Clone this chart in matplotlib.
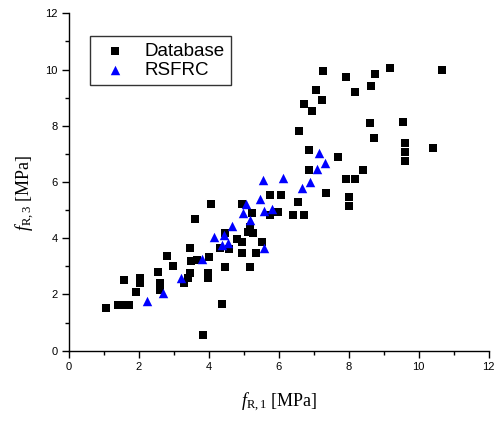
import matplotlib
matplotlib.use('Agg')
import matplotlib.pyplot as plt
from matplotlib.ticker import MultipleLocator

# Database points (f_R1, f_R3)
db_x = [1.07, 1.42, 1.56, 1.73, 1.58, 1.91, 2.04, 2.04, 2.54, 2.61, 2.61, 2.80, 2.99, 3.28, 3.40,
        3.47, 3.49, 3.47, 3.60, 3.66, 3.83, 4.02, 3.99, 3.99, 4.07, 4.39, 4.32, 4.47, 4.47, 4.59,
        4.82, 4.95, 4.95, 4.94, 5.13, 5.27, 5.18, 5.23, 5.18, 5.34, 5.51, 5.75, 6.07, 5.99, 5.75,
        6.40, 6.72, 6.56, 7.36, 8.00, 8.00, 6.87, 7.92, 8.17, 8.40, 6.87, 7.69, 9.61, 9.61, 9.61,
        10.41, 6.59, 8.61, 9.54, 8.72, 6.73, 7.23, 6.95, 7.07, 8.17, 8.64, 7.27, 7.92, 8.75, 9.18,
        10.67]
db_y = [1.53, 1.62, 1.62, 1.62, 2.50, 2.10, 2.58, 2.40, 2.81, 2.40, 2.16, 3.38, 3.02, 2.40, 2.58,
        3.67, 3.18, 2.75, 4.68, 3.23, 0.55, 3.35, 2.75, 2.60, 5.22, 1.66, 3.67, 4.18, 2.98, 3.62,
        3.98, 3.88, 3.47, 5.22, 4.21, 4.19, 4.39, 4.88, 2.98, 3.47, 3.86, 5.53, 5.54, 4.94, 4.82,
        4.82, 4.82, 5.29, 5.62, 5.46, 5.15, 6.43, 6.10, 6.10, 6.43, 7.14, 6.90, 7.38, 7.06, 6.74,
        7.22, 7.82, 8.11, 8.13, 7.55, 8.77, 8.91, 8.53, 9.27, 9.20, 9.41, 9.95, 9.73, 9.85, 10.05,
        10.00]

# RSFRC points
rs_x = [2.24, 2.69, 3.20, 3.80, 4.15, 4.45, 4.56, 4.39, 4.67, 4.99, 5.06, 5.19, 5.47, 5.59, 5.80,
        5.58, 5.56, 6.12, 6.66, 6.89, 7.09, 7.14, 7.31]
rs_y = [1.78, 2.04, 2.60, 3.25, 4.05, 4.12, 3.84, 3.75, 4.45, 4.88, 5.23, 4.64, 5.39, 4.97, 5.04,
        3.65, 6.07, 6.13, 5.79, 6.00, 6.46, 7.02, 6.67]

plt.rcParams['font.family'] = 'Liberation Sans'
plt.rcParams['mathtext.fontset'] = 'custom'
plt.rcParams['mathtext.rm'] = 'Liberation Serif'
plt.rcParams['mathtext.it'] = 'Liberation Serif:italic'

fig = plt.figure(figsize=(4.99, 4.23), dpi=100)
ax = fig.add_axes([0.1377, 0.1709, 0.8417, 0.7977])

ax.scatter(db_x, db_y, marker='s', s=5.8 ** 2, c='black', linewidths=0, label='Database', zorder=3)
ax.scatter(rs_x, rs_y, marker='^', s=6.8 ** 2, c='blue', linewidths=0, label='RSFRC', zorder=4)

ax.set_xlim(0, 12)
ax.set_ylim(0, 12)
ax.xaxis.set_major_locator(MultipleLocator(2))
ax.yaxis.set_major_locator(MultipleLocator(2))
ax.xaxis.set_minor_locator(MultipleLocator(1))
ax.yaxis.set_minor_locator(MultipleLocator(1))
ax.tick_params(which='major', direction='out', length=5, width=1, labelsize=8, pad=3)
ax.tick_params(which='minor', direction='out', length=3, width=1)
ax.spines['top'].set_visible(False)
ax.spines['right'].set_visible(False)
ax.spines['left'].set_linewidth(1)
ax.spines['bottom'].set_linewidth(1)

ax.set_xlabel(r'$f_{\mathrm{R,1}}$ [MPa]', family='Liberation Serif', fontsize=13)
ax.set_ylabel(r'$f_{\mathrm{R,3}}$ [MPa]', family='Liberation Serif', fontsize=13)
ax.xaxis.set_label_coords(0.5, -0.12)
ax.yaxis.set_label_coords(-0.075, 0.467)

leg = ax.legend(loc='upper left', bbox_to_anchor=(0.05, 0.933), fontsize=13.5, frameon=True,
                fancybox=False, edgecolor='black', borderpad=0.35, handlelength=2.0,
                handletextpad=0.55, labelspacing=0.1, borderaxespad=0)
leg.get_frame().set_linewidth(1)

fig.savefig('out.png', dpi=100)
